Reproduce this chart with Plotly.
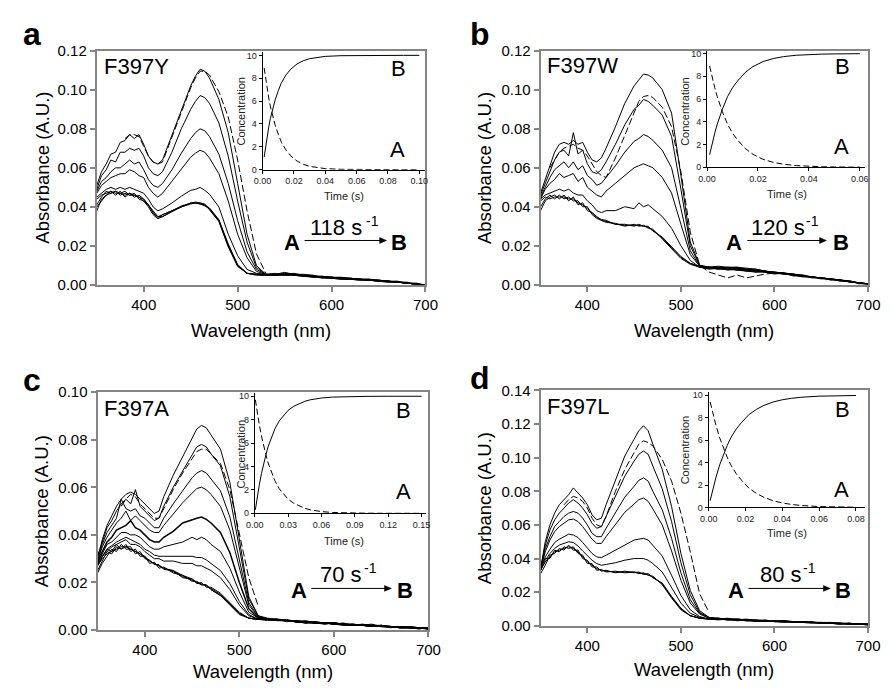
import plotly.graph_objects as go

W, H = 894, 693
FONT = "Liberation Sans, Arial, Helvetica, sans-serif"

# ---------------- data (absorbance in milli-A.U.) ----------------
WAVELENGTH_NM = [350, 355, 360, 365, 370, 375, 380, 385, 390, 395, 400, 405, 410, 415, 420,
                 430, 440, 450, 455, 460, 465, 470, 480, 490, 500, 510, 520, 530,
                 540, 550, 560, 570, 580, 590, 600, 610, 620, 630, 640, 650, 660, 670, 680, 690, 700]
N = None

# Panel a  F397Y
A_T1 = [51, 58, 62, 67, 68, 73, 74, 77, 75, 77, 72, 66, 63, 62, 64,
        77, 90, 102, 107, 110.5, 109.5, 106, 95, 78, 52, 26, 10, 5.5,
        5.5, 6.5, 5.5, 5, 4.5, 4.5, 4, 3.5, 3.5, 3, 2.5, 2.5, 2, 1.5, 1, 0.5, 0]
A_T2 = [49, 56, 59, 64, 63, 68, 68, 70, 69, 70, 66, 60, 57, 56, 58,
        68, 80, 90, 94, 97, 96, 93, 83, 66, 43, 22, 9, 5.5,
        5, 6, 5.5, 5, 5, 4, 4, 3.5, 3, 3, 3, 2.5, 2, 1.5, 1.5, 0.5, 0]
A_T3 = [48, 53, 55, 58, 60, 60, 62, 64, 62, 63, 59, 54, 51, 50, 52,
        59, 67.5, 75, 78, 80, 79, 76, 67, 52, 33, 17, 8, 5.5,
        5.5, 5.5, 6, 5, 4.5, 4.5, 4, 4, 3.5, 3, 2.5, 2.5, 2, 2, 1, 0.5, 0]
A_T4 = [47, 51, 53, 55, 56, 57, 57, 59, 58, 56, 55, 50, 47, 45, 47,
        53, 59.5, 65.5, 67.5, 69, 68, 65, 57, 43, 26, 14, 7, 5.5,
        6, 5, 5.5, 5.5, 5, 4, 4, 3.5, 3.5, 3, 3, 2, 2, 1.5, 1, 1, 0]
A_T5 = [45, 47, 49, 50, 49, 50, 49, 50, 49, 48, 47, 44, 40, 38, 39,
        42, 45.5, 48.5, 49, 50, 48.5, 46.5, 40, 26, 15, 8, 6, 5.5,
        5, 6, 5, 5, 4.5, 4, 4, 3.5, 3, 3, 2.5, 2.5, 2, 1.5, 1, 0.5, 0]
A_B1 = [44, 46, 47, 48, 47, 47, 46, 47, 46, 45, 44, 41, 37, 35, 36,
        38, 40, 42, 42, 41.5, 41, 39, 33, 20, 10, 6, 5.5, 5,
        5, 5.5, 5, 4.5, 4, 4, 3.5, 3.5, 3, 3, 2.5, 2, 2, 1.5, 1, 0.5, 0]
A_B2 = [41, 45, 48, 47, 48, 46, 47, 46, 47, 44, 43, 40, 36, 34, 36,
        38, 40.5, 42, 42.5, 42, 41, 39.5, 33.5, 21, 10.5, 6, 5, 5,
        5.5, 5, 5, 4.5, 4.5, 3.5, 3.5, 3, 3, 2.5, 2.5, 2, 1.5, 1.5, 1, 0.5, 0]
A_B3 = [38, 44, 46, 48, 46, 48, 45, 47, 45, 46, 44, 41, 38, 35, 35,
        37.5, 40, 41.5, 42, 42, 41.5, 38.5, 32.5, 19.5, 9.5, 6, 5.5, 5.5,
        5, 6, 5.5, 5, 4, 4, 3.5, 3.5, 3, 2.5, 2.5, 2, 2, 1.5, 1, 0.5, 0]
A_B4 = [40, 43, 46, 47, 48, 47, 48, 46, 46, 45, 43, 41, 37, 34, 35,
        38, 40, 42, 42, 41.5, 40.5, 39, 33, 20.5, 10, 6, 5.5, 5,
        5, 5, 5.5, 4.5, 4.5, 4, 3.5, 3, 3, 3, 2.5, 2, 1.5, 1.5, 1, 0.5, 0]
A_FIT = [N, N, N, N, N, N, 75, 77, 77, 76, 71, 66, 63, 62, 63,
         76, 89, 101, 106, 109.5, 109.5, 107.5, 99, 86, 64, 38, 16, 6,
         N, N, N, N, N, N, N, N, N, N, N, N, N, N, N, N, N]

# Panel b  F397W
B_T1 = [47, 54, 62, 68, 72, 73, 72, 74, 72, 73, 68, 64, 63, 65, 70,
        81, 93, 102, 105, 108, 107.5, 106, 100, 88, 56, 22, 10, 9,
        9.5, 9, 9, 8.5, 8, 7, 6.5, 6, 5.5, 5, 4, 3.5, 3, 2.5, 2, 1, 0.5]
B_T2 = [46, 52, 59, 64, 68, 69, 66, 78, 67, 69, 62, 58, 57, 59, 63,
        72, 82, 90, 92, 95, 94, 92, 87, 76, 49, 20, 10, 9,
        9, 8.5, 9, 8, 8, 7, 6.5, 6, 5.5, 4.5, 4, 3.5, 3, 2.5, 1.5, 1, 0.5]
B_T3 = [45, 50, 55, 59, 61, 63, 60, 63, 59, 61, 56, 54, 51, 52, 55,
        61, 68, 73.5, 75, 77, 76, 74, 69, 60, 39, 17.5, 9.5, 9,
        8.5, 9, 8.5, 8, 7.5, 7, 6, 6, 5, 5, 4, 3.5, 3, 2, 2, 1, 0.5]
B_T4 = [44, 49, 52, 54, 57, 55, 56, 57, 53, 55, 50, 48, 46, 45, 48,
        52, 56, 60, 61, 62, 61, 60, 55, 47, 31, 15.5, 9.5, 9,
        9, 8, 8.5, 7.5, 7.5, 6.5, 6.5, 5.5, 5.5, 4.5, 4, 3.5, 2.5, 2.5, 1.5, 1, 0.5]
B_T5 = [44, 46, 47, 48, 49, 48, 49, 47, 46, 46, 43, 41, 38, 37, 38,
        38, 40, 39, 42, 40, 41, 39, 35, 29, 20, 12.5, 9, 8.5,
        8.5, 8, 8, 7.5, 7, 7, 6, 6, 5, 4.5, 4, 3, 3, 2, 1.5, 1, 0.5]
B_B1 = [43, 45, 44, 45, 45, 45, 44, 44, 42, 41, 39, 37, 35, 33, 32.5,
        31, 30.5, 30.5, 30.5, 30, 29.5, 28, 24, 19, 14, 11, 9, 8.5,
        8, 8, 7.5, 7, 7, 6.5, 6, 5.5, 5, 4.5, 4, 3.5, 3, 2.5, 1.5, 1, 0.5]
B_B2 = [40, 44, 46, 44, 46, 44, 45, 43, 43, 40, 40, 36, 34, 33, 32,
        31.5, 30, 31, 30, 30.5, 29, 28.5, 23.5, 18.5, 13.5, 10.5, 9, 8,
        8.5, 7.5, 8, 7, 6.5, 7, 6, 5.5, 5, 4, 4, 3.5, 2.5, 2.5, 1.5, 1, 0]
B_B3 = [38, 43, 45, 46, 44, 46, 43, 45, 41, 42, 38, 37, 34.5, 33.5, 33,
        31, 31, 30, 31, 30, 30, 27.5, 24.5, 19.5, 14.5, 11, 9.5, 9,
        8, 8.5, 7.5, 7.5, 6.5, 6.5, 5.5, 6, 4.5, 4.5, 3.5, 3.5, 3, 2, 2, 0.5, 0.5]
B_FIT = [N, N, 60, 64, 68, 70, 71, 72, 70, 69, 66, 62, 58, 56, 55,
         65, 77, 89, 94, 96.5, 97, 96, 91, 81, 58, 27, 10, 6.5,
         5, 3.5, 5, 3.5, 4.5, 5.5, 6, N, N, N, N, N, N, N, N, N, N]

# Panel c  F397A
C_T1 = [30, 38, 44, 48, 52, 55, 57, 58, 57, 55, 53, 51, 49, 50, 56,
        65, 73, 81, 84.5, 86, 85, 82, 76, 62, 38, 14, 6, 5,
        4.5, 4, 4, 3.5, 3.5, 3, 3, 2.5, 2.5, 2, 2, 2, 1.5, 1.5, 1, 1, 1]
C_T2 = [31, 37, 43, 46, 50, 53, 55, 53, 59, 52, 50, 48, 46, 47, 52,
        60, 67, 74, 77, 78, 77, 74, 69, 56, 34, 13, 6, 4.5,
        4, 4.5, 3.5, 4, 3, 3, 2.5, 3, 2, 2, 2.5, 1.5, 1.5, 1, 1.5, 1, 0.5]
C_T3 = [29, 36, 41, 44, 47, 55, 51, 50, 51, 48, 47, 45, 43, 43, 47,
        53, 58.5, 64, 66, 67, 66, 63.5, 58.5, 47.5, 29, 11.5, 5.5, 4.5,
        4.5, 4, 3.5, 3.5, 3, 3, 3, 2.5, 2, 2, 2, 1.5, 1.5, 1.5, 1, 1, 0.5]
C_T4 = [29, 35, 39, 42, 45, 47, 50, 46, 48, 46, 44, 42, 41, 41, 44,
        49, 53.5, 57.5, 59.5, 60, 59, 57, 52, 42, 26, 10.5, 5.5, 4.5,
        4, 4, 4, 3.5, 3, 3, 2.5, 2.5, 2.5, 2, 1.5, 2, 1.5, 1, 1, 1, 0.5]
C_T5 = [28, 33, 37, 39, 42, 43, 44, 46, 43, 42, 40, 38, 37, 37, 39,
        41.5, 45, 46.5, 47, 47.5, 46.5, 45, 41, 32.5, 20, 9, 5, 4.5,
        4.5, 4, 3.5, 3.5, 3, 3, 3, 2.5, 2, 2, 2, 1.5, 1.5, 1, 1, 1, 0.5]
C_T6 = [28, 32, 36, 37, 39, 41, 41, 40, 40, 39, 37, 35, 34, 34, 35,
        36, 37, 39, 38, 39, 38, 36, 33, 26, 16, 7.5, 5, 4.5,
        4, 4, 3.5, 3, 3, 3, 2.5, 2.5, 2, 2, 2, 1.5, 1.5, 1, 1, 1, 1]
C_T7 = [27.5, 31, 34, 35.5, 37, 38, 39, 38, 37, 36, 34, 33, 31.5, 31, 31,
        31, 31, 31, 30.5, 30.5, 29.5, 28, 25, 19.5, 12, 6.5, 4.5, 4.5,
        4, 4, 3.5, 3.5, 3, 3, 2.5, 2, 2, 2, 1.5, 1.5, 1, 1.5, 1, 1, 0.5]
C_T8 = [27, 31, 33, 35, 36, 37, 38, 36, 36, 35, 33, 31.5, 30, 30, 29,
        29, 28, 28, 27, 27, 26, 25, 22, 17, 10.5, 6, 4.5, 4.5,
        4.5, 4, 3.5, 3, 3.5, 3, 2.5, 2.5, 2, 2, 1.5, 1.5, 1.5, 1, 1, 0.5, 1]
C_B1 = [27, 30, 32, 33, 34, 35, 35, 34, 33, 32, 30.5, 29, 28, 27, 26,
        24.5, 22.5, 21, 20, 19.5, 18.5, 17.5, 15, 11, 7, 5, 4.5, 4.5,
        4, 4, 3.5, 3.5, 3, 3, 2.5, 2.5, 2, 2, 2, 1.5, 1.5, 1.5, 1, 1, 1]
C_B2 = [25, 29, 33, 32, 35, 34, 36, 33, 34, 31, 31, 28, 28.5, 26, 26.5,
        24, 23, 20.5, 20.5, 19, 19, 17, 14.5, 10.5, 6.5, 5, 4.5, 4,
        4.5, 3.5, 4, 3, 3.5, 2.5, 3, 2, 2.5, 2, 1.5, 2, 1, 1.5, 1, 0.5, 1]
C_B3 = [33, 31, 34, 33, 36, 34, 35, 35, 32, 33, 30, 29.5, 27.5, 27.5, 25.5,
        25, 22, 21.5, 19.5, 20, 18, 18, 15.5, 11.5, 7.5, 5, 4.5, 4.5,
        4, 4, 3.5, 3.5, 3, 3, 3, 2.5, 2, 2.5, 2, 1.5, 1.5, 1, 1.5, 1, 0.5]
C_B4 = [24, 28, 31, 34, 33, 36, 34, 34, 33, 32, 31, 29, 28, 27, 26,
        25, 23, 21.5, 20, 19, 19, 17, 14.5, 11, 7, 5, 4.5, 4.5,
        4.5, 4, 3.5, 3, 3, 2.5, 3, 2.5, 2, 2, 1.5, 2, 1.5, 1, 1, 1, 0.5]
C_FIT = [N, N, N, N, N, 52, 55, 57, 56, 53, 51, 49, 47, 47, 51,
         59, 66, 72, 75, 76, 76, 74, 70, 59, 41, 22, 10, N,
         N, N, N, N, N, N, N, N, N, N, N, N, N, N, N, N, N]

# Panel d  F397L
D_T1 = [34, 50, 60, 67, 72, 75, 78, 82, 79, 76, 72, 66, 63, 64, 72,
        87, 101, 111, 116, 119, 116, 108, 93, 71, 43, 21, 9, 5,
        4.5, 4, 4, 3.5, 3.5, 3, 3, 3, 2.5, 2.5, 2, 2, 2, 1.5, 1.5, 1, 1]
D_T2 = [34, 48, 57, 63, 67, 70, 73, 75, 73, 70, 66, 61, 58, 59, 65,
        78, 89, 98, 102, 104, 102, 95, 81.5, 62, 37.5, 18.5, 8, 5,
        4, 4.5, 3.5, 4, 3, 3.5, 2.5, 3, 2.5, 2, 2.5, 1.5, 2, 1.5, 1, 1, 1]
D_T3 = [33, 46, 53, 59, 62, 65, 67, 68, 67, 64, 60, 55, 53, 53, 58,
        67.5, 76.5, 83, 86.5, 88, 86, 80, 69, 52, 31.5, 15.5, 7.5, 4.5,
        4.5, 4, 4, 3.5, 3, 3, 3, 2.5, 2.5, 2, 2, 2, 1.5, 1.5, 1, 1, 0.5]
D_T4 = [33.5, 44, 51, 56, 59, 61, 63, 63.5, 62, 59, 55.5, 51.5, 49, 49, 53,
        60, 67.5, 72.5, 75, 76, 74, 69.5, 60, 44.5, 27, 13.5, 7, 4.5,
        4, 4, 3.5, 3.5, 3.5, 3, 2.5, 3, 2, 2.5, 2, 1.5, 1.5, 1.5, 1, 1, 1]
D_T5 = [33, 41, 45.5, 49.5, 51.5, 53, 54.5, 54, 52.5, 49.5, 46, 43, 41, 40.5, 42,
        45, 48.5, 51, 51.5, 52, 51, 48, 41.5, 30, 18, 9.5, 5.5, 4,
        4, 3.5, 4, 3.5, 3, 3, 2.5, 2.5, 2.5, 2, 2, 1.5, 1.5, 1, 1.5, 1, 0.5]
D_T6 = [33, 39, 43, 46, 48, 49, 50, 49.5, 47.5, 44.5, 41.5, 39, 37, 36, 36.5,
        37.5, 39, 40, 40, 40, 39, 37, 32, 22.5, 13.5, 7.5, 5, 4,
        4, 4, 3.5, 3, 3, 3, 2.5, 2.5, 2, 2, 2, 1.5, 1.5, 1.5, 1, 1, 1]
D_B1 = [33, 38, 41, 44, 45, 46, 47, 46, 44, 41, 38, 36, 34, 33, 32.5,
        32, 32, 32, 31.5, 31, 30.5, 29, 25, 17, 10, 6, 4.5, 4,
        4, 3.5, 3.5, 3, 3, 3, 2.5, 2.5, 2.5, 2, 2, 2, 1.5, 1.5, 1.5, 1, 1]
D_B2 = [31, 36, 42, 43, 46, 45, 48, 45, 45, 40, 39, 35, 35, 32.5, 33,
        31.5, 32.5, 31.5, 32, 30.5, 31, 28.5, 25.5, 17.5, 10.5, 6, 4.5, 4,
        3.5, 4, 3, 3.5, 2.5, 3, 2.5, 2, 2.5, 2, 1.5, 2, 1.5, 1, 1.5, 1, 0.5]
D_B3 = [36, 40, 40, 45, 44, 47, 46, 47, 43, 42, 37, 37, 33, 33.5, 32,
        32.5, 31.5, 32, 31, 31.5, 30, 29.5, 24.5, 16.5, 9.5, 6, 4.5, 4,
        4.5, 3.5, 3.5, 3, 3, 2.5, 3, 2.5, 2, 2.5, 2, 1.5, 1.5, 1, 1, 1, 1]
D_FIT = [N, N, N, N, N, 72, 75, 77, 76, 74, 70, 64, 60, 59, 65,
         80, 93, 103, 108, 110, 109, 107, 99, 86, 67, 44, 19, 8,
         N, N, N, N, N, N, N, N, N, N, N, N, N, N, N, N, N]

# Inset kinetics (time in s, concentration)
A_TIME = [0.001, 0.002, 0.003, 0.004, 0.005, 0.006, 0.008, 0.010, 0.012, 0.015, 0.018,
          0.022, 0.026, 0.030, 0.035, 0.040, 0.050, 0.060, 0.070, 0.080, 0.090, 0.100]
A_CONC_A = [8.9, 7.9, 7.0, 6.2, 5.5, 4.9, 3.9, 3.1, 2.4, 1.7, 1.2, 0.75, 0.47, 0.29, 0.16, 0.09,
            0.03, 0.01, 0, 0, 0, 0]
A_CONC_B = [1.1, 2.1, 3.0, 3.8, 4.5, 5.1, 6.1, 6.9, 7.6, 8.3, 8.8, 9.25, 9.53, 9.71, 9.84, 9.91,
            9.97, 9.99, 10, 10, 10, 10]
B_TIME = [0.001, 0.002, 0.003, 0.004, 0.005, 0.006, 0.008, 0.010, 0.012, 0.015, 0.018,
          0.022, 0.026, 0.030, 0.035, 0.040, 0.045, 0.050, 0.055, 0.060]
B_CONC_A = [8.9, 7.9, 7.0, 6.2, 5.5, 4.9, 3.8, 3.0, 2.4, 1.65, 1.15, 0.7, 0.44, 0.27, 0.15, 0.08,
            0.05, 0.03, 0.01, 0.01]
B_CONC_B = [1.1, 2.1, 3.0, 3.8, 4.5, 5.1, 6.2, 7.0, 7.6, 8.35, 8.85, 9.3, 9.56, 9.73, 9.85, 9.92,
            9.95, 9.97, 9.99, 9.99]
C_TIME = [0.0005, 0.002, 0.004, 0.006, 0.008, 0.010, 0.012, 0.015, 0.018, 0.022, 0.026, 0.030,
          0.035, 0.040, 0.045, 0.050, 0.060, 0.070, 0.080, 0.090, 0.100, 0.120, 0.150]
C_CONC_A = [9.7, 8.7, 7.6, 6.6, 5.7, 5.0, 4.3, 3.5, 2.8, 2.1, 1.6, 1.2, 0.86, 0.61, 0.43, 0.3,
            0.15, 0.07, 0.04, 0.02, 0.01, 0, 0]
C_CONC_B = [0.3, 1.3, 2.4, 3.4, 4.3, 5.0, 5.7, 6.5, 7.2, 7.9, 8.4, 8.8, 9.14, 9.39, 9.57, 9.7,
            9.85, 9.93, 9.96, 9.98, 9.99, 10, 10]
D_TIME = [0.0008, 0.002, 0.004, 0.006, 0.008, 0.010, 0.012, 0.015, 0.018, 0.022, 0.026, 0.030,
          0.035, 0.040, 0.045, 0.050, 0.060, 0.070, 0.080]
D_CONC_A = [9.4, 8.5, 7.3, 6.2, 5.3, 4.5, 3.8, 3.0, 2.4, 1.7, 1.25, 0.9, 0.6, 0.4, 0.27, 0.18,
            0.08, 0.04, 0.02]
D_CONC_B = [0.6, 1.5, 2.7, 3.8, 4.7, 5.5, 6.2, 7.0, 7.6, 8.3, 8.75, 9.1, 9.4, 9.6, 9.73, 9.82,
            9.92, 9.96, 9.98]

PANEL_LETTERS = ["a", "b", "c", "d"]
MUTANTS = ["F397Y", "F397W", "F397A", "F397L"]
RATES = ["118", "120", "70", "80"]

# ---------------- layout (pixel geometry) ----------------
PANELS = [
    dict(solid=[A_T1, A_T2, A_T3, A_T4, A_T5, A_B1, A_B2, A_B3, A_B4], bold=None, fit=A_FIT,
         t=A_TIME, ca=A_CONC_A, cb=A_CONC_B,
         frame=(90, 42.7, 427, 283), ymax=0.12,
         inset=(260, 44, 426, 164.7), ixmax=0.1033, iymax=10.3, idt=0.02,
         letter=(24, 26), name=(96, 58.5), lblB=(399.5, 61.5), lblA=(398, 144.5),
         conc=(238, 105), time=(343, 192), boldA=(290, 239.5), arrow=(303, 387, 237.3),
         rate=(308, 224), sup=(364.5, 217), boldB=(399.5, 239.5), ytitle=(33.5, 163),
         xtitle=(258.5, 330)),
    dict(solid=[B_T1, B_T2, B_T3, B_T4, B_T5, B_B1, B_B2, B_B3], bold=None, fit=B_FIT,
         t=B_TIME, ca=B_CONC_A, cb=B_CONC_B,
         frame=(545, 42.7, 880.7, 282.7), ymax=0.12,
         inset=(715.7, 43, 878, 162.3), ixmax=0.0622, iymax=10.23, idt=0.02,
         letter=(483, 26), name=(551, 57.5), lblB=(854.5, 58.5), lblA=(854, 141),
         conc=(693.5, 105), time=(798, 190), boldA=(743.5, 239.5), arrow=(757, 838, 237.3),
         rate=(760, 224), sup=(816.5, 217), boldB=(853.5, 239.5), ytitle=(487, 163),
         xtitle=(713, 330)),
    dict(solid=[C_T1, C_T2, C_T3, C_T4, C_T6, C_T7, C_T8, C_B1, C_B2, C_B3, C_B4], bold=C_T5, fit=C_FIT,
         t=C_TIME, ca=C_CONC_A, cb=C_CONC_B,
         frame=(90.8, 392.7, 430, 636.7), ymax=0.10,
         inset=(252, 394, 428, 517), ixmax=0.1544, iymax=10.25, idt=0.03,
         letter=(24, 380), name=(96, 409.5), lblB=(404.5, 411.5), lblA=(404, 494.5),
         conc=(237.5, 456), time=(343, 545), boldA=(297, 596), arrow=(310, 392, 594),
         rate=(318, 580), sup=(362.5, 573), boldB=(405.5, 596), ytitle=(33, 514.7),
         xtitle=(260.4, 679)),
    dict(solid=[D_T1, D_T2, D_T3, D_T4, D_T5, D_T6, D_B1, D_B2, D_B3], bold=None, fit=D_FIT,
         t=D_TIME, ca=D_CONC_A, cb=D_CONC_B,
         frame=(545, 391, 880.7, 632.3), ymax=0.14,
         inset=(717.3, 393, 878, 511), ixmax=0.0851, iymax=10.26, idt=0.02,
         letter=(483, 378), name=(551, 407.5), lblB=(854.5, 410.5), lblA=(854, 492.5),
         conc=(692.5, 452), time=(798, 537), boldA=(745, 596), arrow=(758, 842, 594),
         rate=(769, 580), sup=(813.5, 573), boldB=(855.5, 596), ytitle=(487, 511.7),
         xtitle=(712.8, 677)),
]


def px(x):
    return x / W


def py(y):
    return 1 - y / H


def mau(arr):
    return [None if v is None else v / 1000.0 for v in arr]


def axname(kind, k):
    return kind + ("axis" if k == 1 else "axis%d" % k)


def axref(kind, k):
    return kind if k == 1 else "%s%d" % (kind, k)


for p in PANELS:
    for arr in p["solid"] + [p["fit"]] + ([p["bold"]] if p["bold"] else []):
        assert len(arr) == len(WAVELENGTH_NM), len(arr)

fig = go.Figure()
layout = {}
annotations = []
shapes = []


def ann(text, x, y, size, bold=False, xanchor="center", yanchor="middle", angle=0, color="black"):
    annotations.append(dict(text=("<b>%s</b>" % text) if bold else text, x=px(x), y=py(y),
                            xref="paper", yref="paper", xanchor=xanchor, yanchor=yanchor,
                            showarrow=False, textangle=angle, borderpad=0,
                            font=dict(family=FONT, size=size, color=color)))


for i, p in enumerate(PANELS):
    m = i + 1
    n = i + 5
    xr, yr = axref("x", m), axref("y", m)
    for arr in p["solid"]:
        fig.add_trace(go.Scatter(x=WAVELENGTH_NM, y=mau(arr), mode="lines", xaxis=xr, yaxis=yr,
                                 line=dict(color="black", width=1), showlegend=False,
                                 hoverinfo="skip"))
    if p["bold"]:
        fig.add_trace(go.Scatter(x=WAVELENGTH_NM, y=mau(p["bold"]), mode="lines", xaxis=xr, yaxis=yr,
                                 line=dict(color="black", width=1.5), showlegend=False,
                                 hoverinfo="skip"))
    fig.add_trace(go.Scatter(x=WAVELENGTH_NM, y=mau(p["fit"]), mode="lines", xaxis=xr, yaxis=yr,
                             line=dict(color="black", width=1, dash="7px,3px"), showlegend=False,
                             hoverinfo="skip", connectgaps=False))
    x0, y0, x1, y1 = p["frame"]
    layout[axname("x", m)] = dict(
        domain=[px(x0), px(x1)], range=[350, 700], anchor=yr,
        tickvals=[400, 500, 600, 700], showline=True, linecolor="#858585", linewidth=2,
        mirror=True, ticks="outside", ticklen=5, tickwidth=1.5, tickcolor="#858585",
        showgrid=False, zeroline=False, tickfont=dict(family=FONT, size=15, color="black"))
    nt = int(round(p["ymax"] / 0.02))
    layout[axname("y", m)] = dict(
        domain=[py(y1), py(y0)], range=[0, p["ymax"]], anchor=xr,
        tickvals=[0.02 * k for k in range(nt + 1)], tickformat=".2f",
        showline=True, linecolor="#858585", linewidth=2, mirror=True, ticks="outside",
        ticklen=5, tickwidth=1.5, tickcolor="#858585", showgrid=False, zeroline=False,
        tickfont=dict(family=FONT, size=15, color="black"))

    # inset
    ixr, iyr = axref("x", n), axref("y", n)
    fig.add_trace(go.Scatter(x=p["t"], y=p["cb"], mode="lines", xaxis=ixr, yaxis=iyr,
                             line=dict(color="black", width=1), showlegend=False, hoverinfo="skip"))
    fig.add_trace(go.Scatter(x=p["t"], y=p["ca"], mode="lines", xaxis=ixr, yaxis=iyr,
                             line=dict(color="black", width=1, dash="6px,3px"), showlegend=False,
                             hoverinfo="skip"))
    ix0, iy0, ix1, iy1 = p["inset"]
    layout[axname("x", n)] = dict(
        domain=[px(ix0), px(ix1)], range=[0, p["ixmax"]], anchor=iyr,
        tick0=0, dtick=p["idt"], tickformat=".2f", showline=True, linecolor="black", linewidth=1,
        ticks="outside", ticklen=3, tickwidth=1, tickcolor="black", showgrid=False, zeroline=False,
        tickfont=dict(family=FONT, size=9, color="#222"))
    layout[axname("y", n)] = dict(
        domain=[py(iy1), py(iy0)], range=[0, p["iymax"]], anchor=ixr,
        tickvals=[0, 2, 4, 6, 8, 10], showline=True, linecolor="black", linewidth=1,
        ticks="outside", ticklen=3, tickwidth=1, tickcolor="black", showgrid=False, zeroline=False,
        tickfont=dict(family=FONT, size=9, color="#222"))

    # texts
    ann(PANEL_LETTERS[i], p["letter"][0], p["letter"][1], 32, bold=True)
    ann(MUTANTS[i], p["name"][0], p["name"][1], 22, xanchor="left")
    ann("B", p["lblB"][0], p["lblB"][1], 22)
    ann("A", p["lblA"][0], p["lblA"][1], 22)
    ann("Concentration", p["conc"][0], p["conc"][1], 11, angle=-90, color="#222")
    ann("Time (s)", p["time"][0], p["time"][1], 11, color="#222")
    ann("A", p["boldA"][0], p["boldA"][1], 22, bold=True)
    ann("B", p["boldB"][0], p["boldB"][1], 22, bold=True)
    ann(RATES[i] + " s", p["rate"][0], p["rate"][1], 22, xanchor="left")
    ann("-1", p["sup"][0], p["sup"][1], 14, xanchor="left")
    ann("Absorbance (A.U.)", p["ytitle"][0], p["ytitle"][1], 18.5, angle=-90)
    ann("Wavelength (nm)", p["xtitle"][0], p["xtitle"][1], 18.5)

    # reaction arrow: shaft + filled head (paper coordinates)
    ax0, ax1, ay = p["arrow"]
    shapes.append(dict(type="line", xref="paper", yref="paper",
                       x0=px(ax0), y0=py(ay), x1=px(ax1 - 5), y1=py(ay),
                       line=dict(color="black", width=1)))
    shapes.append(dict(type="path", xref="paper", yref="paper",
                       path="M %f,%f L %f,%f L %f,%f Z" % (px(ax1), py(ay), px(ax1 - 7), py(ay - 3),
                                                          px(ax1 - 7), py(ay + 3)),
                       fillcolor="black", line=dict(color="black", width=0.5)))

layout["annotations"] = annotations
layout["shapes"] = shapes
fig.update_layout(width=W, height=H, margin=dict(l=0, r=0, t=0, b=0),
                  paper_bgcolor="white", plot_bgcolor="white", showlegend=False,
                  font=dict(family=FONT, color="black"), **layout)

fig.write_html("out.html", config={"displayModeBar": False})
